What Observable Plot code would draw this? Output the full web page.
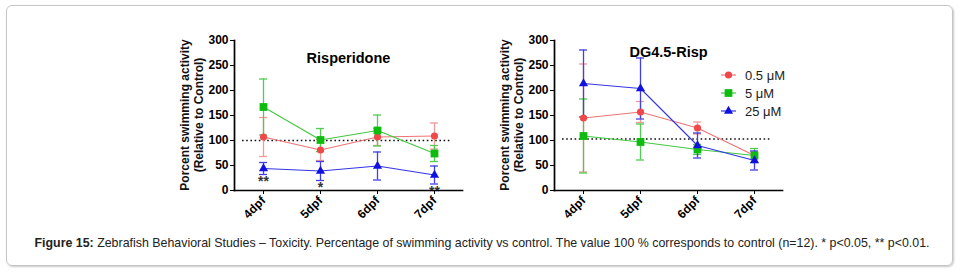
<!DOCTYPE html>
<html><head><meta charset="utf-8">
<script src="https://cdn.jsdelivr.net/npm/d3@7"></script>
<script src="https://cdn.jsdelivr.net/npm/@observablehq/plot@0.6"></script>
<style>
html,body{margin:0;padding:0;background:#fff}
body{width:964px;height:272px;position:relative;overflow:hidden;font-family:"Liberation Sans",Arial,sans-serif;color:#111}
#frame{position:absolute;left:6px;top:5px;width:945px;height:259px;border:1px solid #c6c6c6;border-radius:6px;box-shadow:1px 1px 2px rgba(0,0,0,.22)}
.chart{position:absolute;top:0}
.ylab{position:absolute;width:170px;height:28px;font:bold 12px "Liberation Sans",Arial,sans-serif;line-height:14px;text-align:center;transform:rotate(-90deg);white-space:nowrap;color:#111}
#legend{position:absolute;left:716px;top:65px}
#caption{position:absolute;left:0;top:236px;width:964px;text-align:center;font:12.4px "Liberation Sans",Arial,sans-serif;color:#222;white-space:nowrap}
</style></head>
<body>
<div id="frame"></div>
<div class="chart" id="c1" style="left:160px"></div>
<div class="chart" id="c2" style="left:480px"></div>
<div class="ylab" style="left:107px;top:101px">Porcent swimming activity<br>(Relative to Control)</div>
<div class="ylab" style="left:427px;top:101px">Porcent swimming activity<br>(Relative to Control)</div>
<div id="legend"></div>
<div id="caption"><b>Figure 15:</b> Zebrafish Behavioral Studies – Toxicity. Percentage of swimming activity vs control. The value 100 % corresponds to control (n=12). * p&lt;0.05, ** p&lt;0.01.</div>
<script>
// ---- data ----
const days = ["4dpf", "5dpf", "6dpf", "7dpf"];
const doses = ["0.5 μM", "5 μM", "25 μM"];
const symbols = ["circle", "square", "triangle"];
const markerColors = ["#f04848", "#10bb10", "#1010e0"];
const lineColors = ["#ec7474", "#40c840", "#3434e4"];
const errColors = ["#f29a9a", "#50cc50", "#4040e6"];
const yTicks = [0, 50, 100, 150, 200, 250, 300];

const titles = ["Risperidone", "DG4.5-Risp"];
const controlLevel = [100, 103];

// Risperidone panel
const risp05 = [107, 81, 107, 109];
const risp05Err = [39, 21, 17, 26];
const risp5 = [167, 101, 120, 74];
const risp5Err = [56, 23, 31, 16];
const risp25 = [44, 39, 49, 31];
const risp25Err = [12, 19, 28, 18];
const rispSig = ["**", "*", "", "**"];

// DG4.5-Risp panel
const dg05 = [145, 157, 125, 70];
const dg05Err = [108, 21, 12, 8];
const dg5 = [109, 97, 82, 70];
const dg5Err = [74, 36, 10, 14];
const dg25 = [214, 204, 90, 60];
const dg25Err = [67, 61, 25, 19];
const dgSig = ["", "", "", ""];

const panels = [
  {title: titles[0], titleDy: 12, ctrl: controlLevel[0], series: [[risp05, risp05Err], [risp5, risp5Err], [risp25, risp25Err]], sig: rispSig, el: "#c1"},
  {title: titles[1], titleDy: 6, ctrl: controlLevel[1], series: [[dg05, dg05Err], [dg5, dg5Err], [dg25, dg25Err]], sig: dgSig, el: "#c2"}
];

function draw(p) {
  const marks = [];
  marks.push(Plot.ruleY([p.ctrl], {stroke: "#111", strokeWidth: 1.7, strokeDasharray: "1.6,2.6", insetLeft: 8, insetRight: 10}));
  p.series.forEach(([vals, errs], i) => {
    const rows = days.map((d, j) => ({day: d, v: vals[j], lo: vals[j] - errs[j], hi: vals[j] + errs[j]}));
    marks.push(Plot.ruleX(rows, {x: "day", y1: "lo", y2: "hi", stroke: errColors[i], strokeWidth: 1.3}));
    marks.push(Plot.tickY(rows, {x: "day", y: "lo", stroke: errColors[i], strokeWidth: 1.3}));
    marks.push(Plot.tickY(rows, {x: "day", y: "hi", stroke: errColors[i], strokeWidth: 1.3}));
  });
  p.series.forEach(([vals, errs], i) => {
    const rows = days.map((d, j) => ({day: d, v: vals[j]}));
    marks.push(Plot.line(rows, {x: "day", y: "v", stroke: lineColors[i], strokeWidth: 1.1}));
    marks.push(Plot.dot(rows, {x: "day", y: "v", symbol: symbols[i], fill: markerColors[i], r: [3.6, 4.4, 3.4][i], stroke: "none"}));
  });
  const [bv, be] = p.series[2];
  const sigRows = days.map((d, j) => ({day: d, lo: bv[j] - be[j], s: p.sig[j]})).filter(r => r.s);
  marks.push(Plot.text(sigRows, {x: "day", y: "lo", text: "s", lineAnchor: "top", dy: 2, fontSize: 14, fontWeight: "bold", fill: "#333"}));
  marks.push(Plot.text([p.title], {frameAnchor: "top", dy: p.titleDy, fontSize: 14.5, fontWeight: "bold", fill: "#000"}));
  marks.push(Plot.frame({anchor: "left", stroke: "#000", strokeWidth: 1.7}));
  marks.push(Plot.frame({anchor: "bottom", stroke: "#000", strokeWidth: 1.7}));
  const chart = Plot.plot({
    width: 310, height: 232,
    marginLeft: 74, marginRight: 8, marginTop: 40, marginBottom: 42,
    style: {fontFamily: "'Liberation Sans', Arial, sans-serif", fontSize: "12px", fontWeight: "bold", color: "#000", background: "transparent"},
    x: {type: "band", domain: days, paddingInner: 0.86, paddingOuter: 0.43, label: null, tickSize: 4, tickRotate: -45, tickPadding: 4},
    y: {domain: [0, 300], ticks: yTicks, label: null, tickSize: 4, tickPadding: 2},
    marks
  });
  document.querySelector(p.el).append(chart);
}
panels.forEach(draw);

// legend
const lg = d3.select("#legend").append("svg").attr("width", 90).attr("height", 60);
doses.forEach((d, i) => {
  const g = lg.append("g").attr("transform", `translate(0,${10 + i * 18})`);
  g.append("line").attr("x1", 5).attr("x2", 20).attr("stroke", lineColors[i]).attr("stroke-width", 1.2);
  g.append("path").attr("transform", "translate(12.5,0)")
    .attr("d", d3.symbol([d3.symbolCircle, d3.symbolSquare, d3.symbolTriangle][i], [40, 60, 36][i])())
    .attr("fill", markerColors[i]);
  g.append("text").attr("x", 29).attr("dy", "0.35em").attr("font-size", 13).attr("fill", "#222")
    .attr("font-family", "'Liberation Sans', Arial, sans-serif").text(d);
});
</script>
</body></html>
